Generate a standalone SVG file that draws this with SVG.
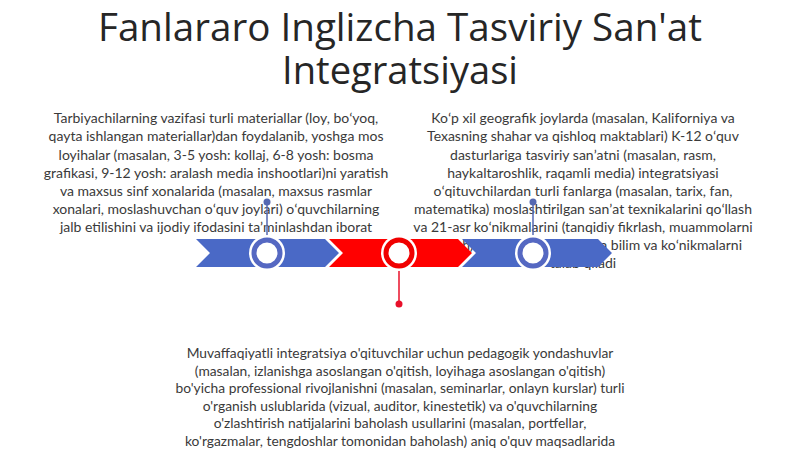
<svg xmlns="http://www.w3.org/2000/svg" width="800" height="449" viewBox="0 0 800 449">
<style>
.title{font-family:"Open Sans","Liberation Sans",sans-serif;font-size:39px;fill:#262626;text-anchor:middle}
.body{font-family:Lato,"Liberation Sans",sans-serif;font-size:14px;fill:#3a3a3a;text-anchor:middle}
.bottom{font-size:13.8px}
.blue{fill:#4A69C6}
.red{fill:#FF0000}
.conn-b{stroke:#5568B2;stroke-width:1.5;fill:none}
.conn-r{stroke:#E8102A;stroke-width:1.5;fill:none}
</style>
<rect width="800" height="449" fill="#ffffff"/>
<g id="title">
<text class="title" x="400" y="41" textLength="604" lengthAdjust="spacingAndGlyphs">Fanlararo Inglizcha Tasviriy San'at</text>
<text class="title" x="400" y="84" textLength="236" lengthAdjust="spacingAndGlyphs">Integratsiyasi</text>
</g>
<g id="text-left" class="body">
<text x="216" y="123">Tarbiyachilarning vazifasi turli materiallar (loy, boʻyoq,</text>
<text x="216" y="141">qayta ishlangan materiallar)dan foydalanib, yoshga mos</text>
<text x="216" y="160">loyihalar (masalan, 3-5 yosh: kollaj, 6-8 yosh: bosma</text>
<text x="216" y="178">grafikasi, 9-12 yosh: aralash media inshootlari)ni yaratish</text>
<text x="216" y="196">va maxsus sinf xonalarida (masalan, maxsus rasmlar</text>
<text x="216" y="214">xonalari, moslashuvchan oʻquv joylari) oʻquvchilarning</text>
<text x="216" y="232">jalb etilishini va ijodiy ifodasini taʼminlashdan iborat</text>
</g>
<g id="text-right" class="body">
<text x="583" y="123">Koʻp xil geografik joylarda (masalan, Kaliforniya va</text>
<text x="583" y="141">Texasning shahar va qishloq maktablari) K-12 oʻquv</text>
<text x="583" y="160">dasturlariga tasviriy sanʼatni (masalan, rasm,</text>
<text x="583" y="178">haykaltaroshlik, raqamli media) integratsiyasi</text>
<text x="583" y="196">oʻqituvchilardan turli fanlarga (masalan, tarix, fan,</text>
<text x="583" y="214">matematika) moslashtirilgan sanʼat texnikalarini qoʻllash</text>
<text x="583" y="232">va 21-asr koʻnikmalarini (tanqidiy fikrlash, muammolarni</text>
<text x="583" y="250">yechish) rivojlantirish boʻyicha bilim va koʻnikmalarni</text>
<text x="583" y="268">talab qiladi</text>
</g>
<g id="text-bottom" class="body bottom">
<text x="400" y="358">Muvaffaqiyatli integratsiya o'qituvchilar uchun pedagogik yondashuvlar</text>
<text x="400" y="376">(masalan, izlanishga asoslangan o'qitish, loyihaga asoslangan o'qitish)</text>
<text x="400" y="393">bo'yicha professional rivojlanishni (masalan, seminarlar, onlayn kurslar) turli</text>
<text x="400" y="411">o'rganish uslublarida (vizual, auditor, kinestetik) va o'quvchilarning</text>
<text x="400" y="428">o'zlashtirish natijalarini baholash usullarini (masalan, portfellar,</text>
<text x="400" y="446">ko'rgazmalar, tengdoshlar tomonidan baholash) aniq o'quv maqsadlarida</text>
</g>
<g id="band">
<polygon id="seg1" class="blue" points="196,239 325,239 339,253 325,267 196,267 210,253"/>
<polygon id="seg2" class="red" points="329,239 458,239 472,253 458,267 329,267 343,253"/>
<polygon id="seg3" class="blue" points="462,239 598,239 612,253 598,267 462,267 476,253"/>
</g>
<g id="connectors">
<line class="conn-b" x1="267" y1="202" x2="267" y2="240"/>
<line class="conn-r" x1="399" y1="266" x2="399" y2="304"/>
<line class="conn-b" x1="533" y1="202" x2="533" y2="240"/>
<circle cx="267" cy="202" r="3.5" fill="#5568B2"/>
<circle cx="399" cy="304" r="3.5" fill="#E8102A"/>
<circle cx="533" cy="202" r="3.5" fill="#5568B2"/>
</g>
<g id="milestone1">
<circle cx="267" cy="253" r="18" fill="#ffffff"/>
<circle cx="267" cy="253" r="13" fill="#ffffff" stroke="#5568C2" stroke-width="5"/>
</g>
<g id="milestone2">
<circle cx="399" cy="253" r="18" fill="#ffffff"/>
<circle cx="399" cy="253" r="13" fill="#ffffff" stroke="#F00000" stroke-width="5"/>
</g>
<g id="milestone3">
<circle cx="533" cy="253" r="18" fill="#ffffff"/>
<circle cx="533" cy="253" r="13" fill="#ffffff" stroke="#5568C2" stroke-width="5"/>
</g>
</svg>
